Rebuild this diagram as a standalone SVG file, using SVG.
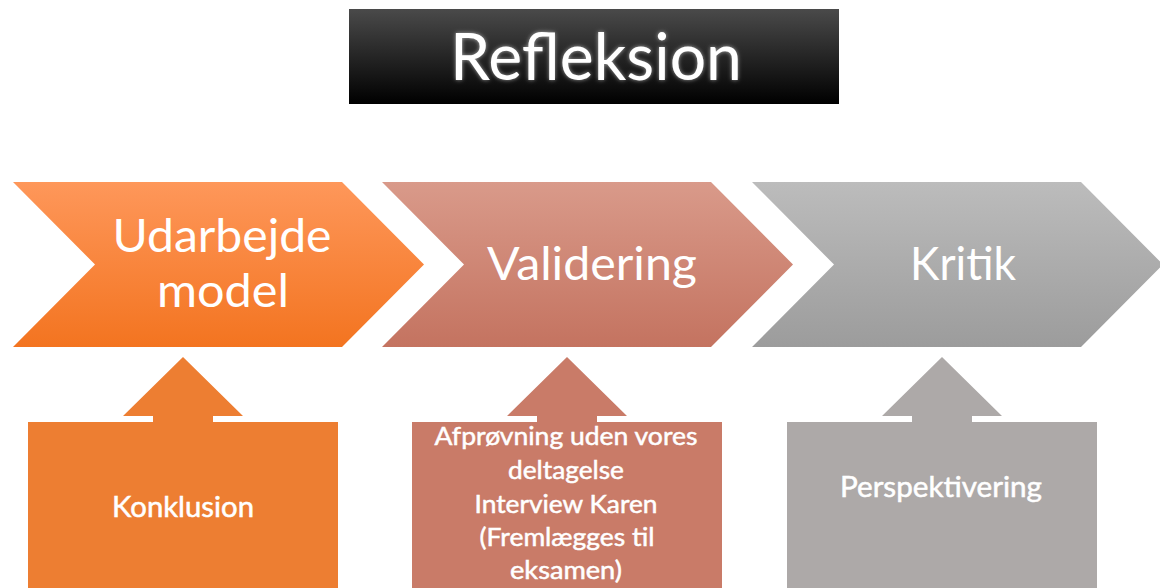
<svg xmlns="http://www.w3.org/2000/svg" width="1160" height="588" viewBox="0 0 1160 588">
  <defs>
    <linearGradient id="gTitle" x1="0" y1="0" x2="0" y2="1">
      <stop offset="0" stop-color="#4a4a4a"/>
      <stop offset="1" stop-color="#000000"/>
    </linearGradient>
    <linearGradient id="gOrange" x1="0" y1="0" x2="0" y2="1">
      <stop offset="0" stop-color="#fe975a"/>
      <stop offset="1" stop-color="#f37420"/>
    </linearGradient>
    <linearGradient id="gRose" x1="0" y1="0" x2="0" y2="1">
      <stop offset="0" stop-color="#d99a8a"/>
      <stop offset="1" stop-color="#c47360"/>
    </linearGradient>
    <linearGradient id="gGrey" x1="0" y1="0" x2="0" y2="1">
      <stop offset="0" stop-color="#bcbcbc"/>
      <stop offset="1" stop-color="#9c9c9c"/>
    </linearGradient>
    <filter id="glow" x="-10%" y="-30%" width="120%" height="160%">
      <feGaussianBlur in="SourceAlpha" stdDeviation="2.2" result="b"/>
      <feFlood flood-color="#ffffff" flood-opacity="0.55"/>
      <feComposite in2="b" operator="in" result="g"/>
      <feMerge>
        <feMergeNode in="g"/>
        <feMergeNode in="SourceGraphic"/>
      </feMerge>
    </filter>
    <!-- chevron shape: body 329 wide, point depth 82, height 165 -->
    <path id="chev" d="M0,0 H329 L411,82.5 L329,165 H0 L82,82.5 Z"/>
    <!-- callout box with a centred upward arrow; runs off the bottom edge -->
    <path id="callout" d="M0,65 H125 V59 H95 L155,0 L215,59 H185 V65 H310 V240 H0 Z"/>
  </defs>
  <style>
    text { font-family: Lato, "Open Sans", "Liberation Sans", sans-serif; fill: #ffffff; text-anchor: middle; }
    .title { font-size: 65px; }
    .step { font-size: 47px; }
    .note { font-size: 28px; stroke: #ffffff; stroke-width: 0.5px; }
    .note2 { font-size: 25px; stroke: #ffffff; stroke-width: 0.5px; }
  </style>

  <g id="title">
    <rect x="349" y="9" width="490" height="95" fill="url(#gTitle)"/>
    <text class="title" x="596" y="80" textLength="292" lengthAdjust="spacingAndGlyphs" filter="url(#glow)">Refleksion</text>
  </g>

  <g id="step-udarbejde">
    <use href="#chev" x="13" y="182" fill="url(#gOrange)"/>
    <text class="step" x="222" y="252" textLength="219" lengthAdjust="spacingAndGlyphs">Udarbejde</text>
    <text class="step" x="223" y="307" textLength="132" lengthAdjust="spacingAndGlyphs">model</text>
  </g>

  <g id="step-validering">
    <use href="#chev" x="382" y="182" fill="url(#gRose)"/>
    <text class="step" x="592" y="280" textLength="210" lengthAdjust="spacingAndGlyphs">Validering</text>
  </g>

  <g id="step-kritik">
    <use href="#chev" x="752" y="182" fill="url(#gGrey)"/>
    <text class="step" x="963" y="280" textLength="106" lengthAdjust="spacingAndGlyphs">Kritik</text>
  </g>

  <g id="connectors">
    <!-- the up-arrows are part of each callout shape below -->
  </g>

  <g id="note-konklusion">
    <use href="#callout" x="28" y="357" fill="#ed7e32"/>
    <text class="note" x="183" y="517" textLength="142" lengthAdjust="spacingAndGlyphs">Konklusion</text>
  </g>

  <g id="note-afproevning">
    <use href="#callout" x="412" y="357" fill="#c97b68"/>
    <text class="note2" x="566" y="445" textLength="263" lengthAdjust="spacingAndGlyphs">Afprøvning uden vores</text>
    <text class="note2" x="566" y="479" textLength="116" lengthAdjust="spacingAndGlyphs">deltagelse</text>
    <text class="note2" x="566" y="513" textLength="183" lengthAdjust="spacingAndGlyphs">Interview Karen</text>
    <text class="note2" x="567" y="546" textLength="175" lengthAdjust="spacingAndGlyphs">(Fremlægges til</text>
    <text class="note2" x="566" y="579" textLength="112" lengthAdjust="spacingAndGlyphs">eksamen)</text>
  </g>

  <g id="note-perspektivering">
    <use href="#callout" x="787" y="357" fill="#ada9a8"/>
    <text class="note" x="941" y="497" textLength="202" lengthAdjust="spacingAndGlyphs">Perspektivering</text>
  </g>
</svg>
